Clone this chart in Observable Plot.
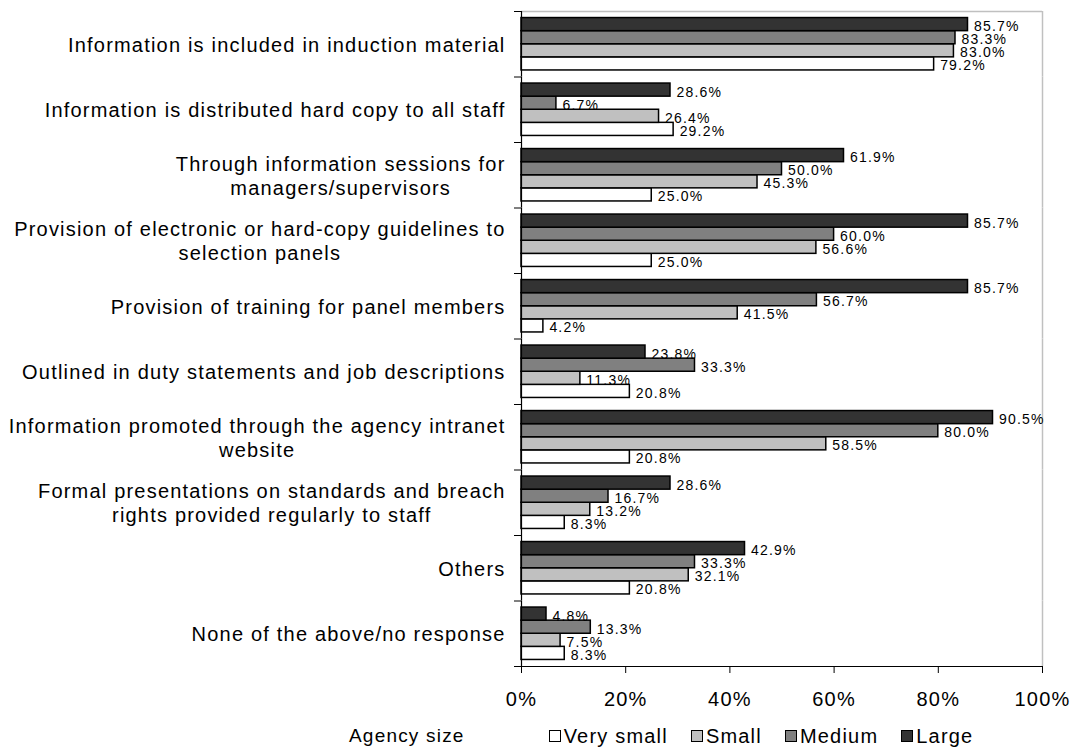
<!DOCTYPE html>
<html>
<head>
<meta charset="utf-8">
<script src="https://cdn.jsdelivr.net/npm/d3@7"></script>
<script src="https://cdn.jsdelivr.net/npm/@observablehq/plot@0.6"></script>
<style>
  body { margin: 0; background: #fff; font-family: "Liberation Sans", Arial, sans-serif; }
  #chart svg { display: block; overflow: visible; }
  #legend {
    display: flex; align-items: center; height: 42px;
    padding-left: 349px; font-size: 20px; letter-spacing: 1.2px; color: #000;
  }
  #legend .title { font-size: 19px; margin-right: 84px; }
  #legend .item { display: flex; align-items: center; margin-right: 23px; }
  #legend .swatch {
    width: 10px; height: 10px; border: 1px solid #000; margin-right: 3px; box-sizing: content-box;
  }
</style>
</head>
<body>
<div id="chart"></div>
<div id="legend"></div>
<script>
// Ways agencies communicate the standards, by agency size (% of agencies)
const categories = [
  "Information is included in induction material",
  "Information is distributed hard copy to all staff",
  "Through information sessions for\nmanagers/supervisors",
  "Provision of electronic or hard-copy guidelines to\nselection panels",
  "Provision of training for panel members",
  "Outlined in duty statements and job descriptions",
  "Information promoted through the agency intranet\nwebsite",
  "Formal presentations on standards and breach\nrights provided regularly to staff",
  "Others",
  "None of the above/no response"
];
const sizes = ["Very small", "Small", "Medium", "Large"];
const verySmall = [79.2, 29.2, 25.0, 25.0, 4.2, 20.8, 20.8, 8.3, 20.8, 8.3];
const small     = [83.0, 26.4, 45.3, 56.6, 41.5, 11.3, 58.5, 13.2, 32.1, 7.5];
const medium    = [83.3, 6.7, 50.0, 60.0, 56.7, 33.3, 80.0, 16.7, 33.3, 13.3];
const large     = [85.7, 28.6, 61.9, 85.7, 85.7, 23.8, 90.5, 28.6, 42.9, 4.8];
const xTicks = [0, 20, 40, 60, 80, 100];
const legendTitle = "Agency size";

const sizeFills = ["#ffffff", "#c0c0c0", "#808080", "#333333"];
const series = [verySmall, small, medium, large];
const barOrder = [...sizes].reverse(); // Large on top within each group

const rows = categories.flatMap((category, i) =>
  sizes.map((size, j) => ({category, size, value: series[j][i]}))
);

const font = '"Liberation Sans", Arial, sans-serif';
const spacing = 1.2;
const W = 1075, H = 715;
const mTop = 11, mBottom = 49, mLeft = 521, mRight = 33;
const bandH = (H - mTop - mBottom) / categories.length;
const barStep = bandH / (barOrder.length + 1); // half a bar of padding above and below
const labelGap = 16;

// Width of a line of text, including letter spacing
const ctx = document.createElement("canvas").getContext("2d");
ctx.font = `20px ${font}`;
const textWidth = (s) => ctx.measureText(s).width + spacing * s.length;

// Category labels: each block centred on its own longest line, right edge near the axis
const labelMarks = categories.map((c) => {
  const w = d3.max(c.split("\n"), textWidth);
  return Plot.text([c], {
    fy: (d) => d,
    text: (d) => d,
    frameAnchor: "left",
    textAnchor: "middle",
    lineHeight: 1.2,
    fontSize: 20,
    dx: -(labelGap + w / 2),
    fill: "#000"
  });
});

const first = categories[0];
const last = categories[categories.length - 1];

const chart = Plot.plot({
  width: W,
  height: H,
  marginTop: mTop,
  marginBottom: mBottom,
  marginLeft: mLeft,
  marginRight: mRight,
  style: {fontFamily: font, letterSpacing: `${spacing}px`, background: "#fff", color: "#000"},
  x: {domain: [0, 100]},
  fy: {domain: categories, paddingInner: 0, paddingOuter: 0, round: false, label: null},
  y: {domain: barOrder, paddingInner: 0, paddingOuter: 0.5, round: false, axis: null},
  color: {domain: sizes, range: sizeFills},
  marks: [
    // plot area borders: light top and right, dark bottom
    Plot.ruleX([100], {stroke: "#c0c0c0", strokeWidth: 1.5}),
    Plot.ruleY([barOrder[0]], {fy: () => first, y: (d) => d, dy: -barStep, stroke: "#c0c0c0", strokeWidth: 1.5}),
    Plot.ruleY([barOrder[barOrder.length - 1]], {fy: () => last, y: (d) => d, dy: barStep, stroke: "#000", strokeWidth: 1.2}),
    // category separators on the left
    Plot.axisFy({anchor: "left", tickSize: 7, text: null, label: null, dy: -bandH / 2, stroke: "#000"}),
    Plot.axisFy({anchor: "left", ticks: [last], tickSize: 7, text: null, label: null, dy: bandH / 2, stroke: "#000"}),
    ...labelMarks,
    Plot.barX(rows, {
      x: "value", y: "size", fy: "category",
      fill: "size", stroke: "#000", strokeWidth: 1.5
    }),
    Plot.ruleX([0], {stroke: "#000", strokeWidth: 1.2}),
    Plot.text(rows, {
      x: "value", y: "size", fy: "category",
      text: (d) => d.value.toFixed(1) + "%",
      textAnchor: "start", dx: 6, dy: 2, fontSize: 14, fill: "#000"
    }),
    Plot.axisX({
      anchor: "bottom", ticks: xTicks, tickFormat: (d) => d + "%",
      tickSize: 7, tickPadding: 18, fontSize: 20, label: null, stroke: "#000"
    })
  ]
});
document.getElementById("chart").append(chart);

// Legend
const legend = d3.select("#legend");
legend.append("span").attr("class", "title").text(legendTitle);
sizes.forEach((s, i) => {
  const item = legend.append("span").attr("class", "item");
  item.append("span").attr("class", "swatch").style("background", sizeFills[i]);
  item.append("span").text(s);
});
</script>
</body>
</html>
